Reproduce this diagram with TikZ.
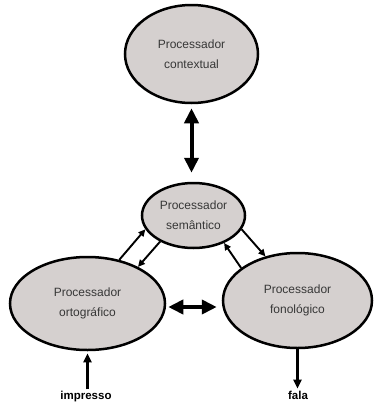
\documentclass[tikz,border=0pt]{standalone}
\usepackage{fontspec}
\setmainfont{Liberation Sans}
\usetikzlibrary{shapes.geometric,arrows.meta}
\definecolor{procfill}{RGB}{213,208,207}
\definecolor{proctext}{RGB}{55,55,55}
\tikzset{
  proc/.style={ellipse, draw=black, line width=2.5pt, fill=procfill,
    inner sep=0pt, align=center, text=proctext,
    font=\fontsize{12}{20}\selectfont},
  bigarrow/.style={line width=4pt, {Triangle[length=15pt,width=14pt]}-{Triangle[length=15pt,width=14pt]}},
  thinarrow/.style={line width=1.9pt, -{Triangle[length=7pt,width=6.5pt]}},
  ioarrow/.style={line width=2.4pt, -{Triangle[length=9pt,width=8pt]}},
  iolabel/.style={font=\bfseries\fontsize{11.5}{13}\selectfont, inner sep=0pt}
}
\begin{document}
\begin{tikzpicture}[x=1pt,y=-1pt]
  \useasboundingbox (0,0) rectangle (373,402);

  % processors
  \node[proc, minimum width=133pt, minimum height=98pt] (ctx) at (191.5,54) {Processador\\contextual};
  \node[proc, minimum width=103pt, minimum height=65pt] (sem) at (193.5,215.5) {Processador\\semântico};
  \node[proc, minimum width=155pt, minimum height=93pt] (ort) at (87.5,303.5) {Processador\\ortográfico};
  \node[proc, minimum width=149pt, minimum height=95pt] (fon) at (297.5,300.5) {Processador\\fonológico};

  % input and output labels
  \node[iolabel] (imp) at (86,397) {impresso};
  \node[iolabel] (fal) at (298,395) {fala};

  % two-way links
  \draw[bigarrow, shorten <=4pt, shorten >=9pt] (ctx.south) -- (ctx.south |- sem.north);
  \draw[bigarrow, shorten <=2pt, shorten >=5pt] (ort.east |- 0,307) -- (fon.west |- 0,307);

  % semantic <-> orthographic
  \draw[thinarrow] (ort.54) -- (sem.196);
  \draw[thinarrow] (sem.218) -- (ort.36);

  % semantic <-> phonological
  \draw[thinarrow] (sem.344) -- (fon.126);
  \draw[thinarrow] (fon.150) -- (sem.318);

  % print in, speech out
  \draw[ioarrow, shorten <=2pt, shorten >=2pt] (imp.north -| ort.south) -- (ort.south);
  \draw[ioarrow, shorten >=2pt] (fon.south) -- (fon.south |- fal.north);
\end{tikzpicture}
\end{document}
